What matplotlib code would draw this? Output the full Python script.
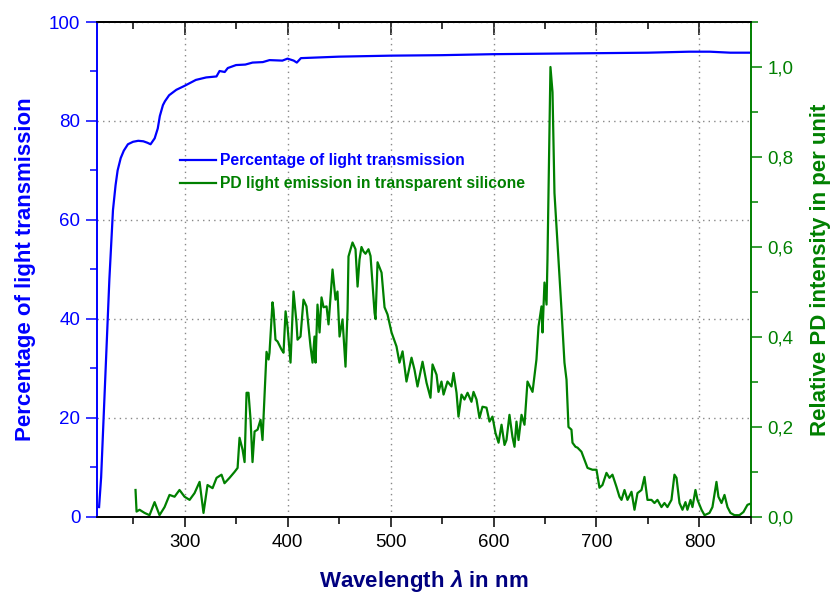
import matplotlib
matplotlib.use('Agg')
import matplotlib.pyplot as plt
from matplotlib.ticker import MultipleLocator, FuncFormatter

plt.rcParams['font.family'] = ['Liberation Sans', 'DejaVu Sans']
plt.rcParams['mathtext.fontset'] = 'custom'
plt.rcParams['mathtext.it'] = 'Liberation Sans:italic:bold'
plt.rcParams['mathtext.rm'] = 'Liberation Sans:bold'

BLUE = '#0000ff'
GREEN = '#008000'
NAVY = '#000080'

# transmission curve (left axis, %)
trans_wl = [217, 219, 221, 223, 225, 227, 229, 230.5, 233, 235, 238, 241, 245, 250,
            255, 260, 264, 267, 271, 274, 276, 279, 281, 285, 292, 300, 311, 321,
            331, 334, 339, 342, 350, 359, 366, 376, 382.5, 395, 400, 406, 409, 413,
            450, 500, 550, 600, 650, 700, 750, 790, 810, 830, 850]
trans_pct = [2, 8, 18, 28, 38, 48, 56, 62, 67, 70, 72.5, 74, 75.3, 75.8,
             76, 75.9, 75.6, 75.3, 76.5, 78.5, 81, 83.2, 84, 85.2, 86.3, 87.1, 88.3, 88.8,
             89, 90.1, 89.9, 90.7, 91.3, 91.4, 91.8, 91.9, 92.3, 92.2, 92.6, 92.2, 91.8, 92.7,
             93.0, 93.2, 93.3, 93.5, 93.6, 93.7, 93.8, 94.0, 94.0, 93.8, 93.8]

# PD emission spectrum (right axis, per unit)
pd_wl = [252.4, 253.4, 256.3, 261.2, 266.0, 270.9, 275.7, 280.6, 285.4, 290.3,
         295.1, 300.0, 304.9, 309.7, 314.6, 318.4, 322.3, 327.2, 331.1, 335.9,
         338.8, 343.7, 348.5, 351.5, 353.4, 356.3, 358.3, 360.2, 362.1, 364.1,
         366.0, 368.0, 370.9, 373.8, 375.7, 379.6, 381.6, 382.5, 385.4, 386.4,
         388.3, 390.3, 394.2, 396.1, 398.1, 400.0, 402.9, 405.8, 408.7, 409.7,
         412.6, 415.5, 418.4, 422.3, 424.3, 426.2, 427.2, 429.1, 431.1, 433.0,
         435.0, 437.9, 439.8, 442.7, 443.7, 446.6, 448.5, 450.5, 453.4, 456.3,
         458.3, 459.2, 463.1, 466.0, 468.0, 469.9, 471.8, 473.8, 475.7, 478.6,
         480.6, 484.5, 485.4, 487.4, 491.3, 494.2, 497.1, 501.0, 505.8, 508.7,
         511.7, 515.5, 520.4, 523.3, 526.2, 531.1, 535.0, 538.8, 540.8, 544.7,
         546.6, 549.5, 551.5, 555.3, 559.2, 561.2, 564.1, 566.0, 568.9, 571.8,
         574.8, 578.6, 580.6, 583.5, 586.4, 589.3, 593.2, 596.1, 599.0, 601.9,
         604.9, 607.8, 610.7, 612.6, 615.5, 618.4, 620.4, 622.3, 624.3, 627.2,
         630.1, 633.0, 637.9, 641.7, 643.7, 646.6, 647.6, 649.5, 651.5, 652.4,
         655.3, 657.3, 659.2, 662.1, 666.0, 668.9, 670.9, 672.8, 675.7, 676.7,
         679.6, 681.6, 685.4, 688.3, 691.3, 696.1, 700.0, 702.9, 705.8, 709.7,
         712.6, 715.5, 719.4, 722.3, 724.3, 727.2, 730.1, 734.0, 736.9, 739.8,
         743.7, 746.6, 749.5, 753.4, 756.3, 759.2, 763.1, 766.0, 768.9, 772.8,
         775.7, 777.7, 780.6, 783.5, 786.4, 788.3, 791.3, 793.2, 796.1, 798.1,
         802.0, 804.9, 809.7, 812.6, 816.5, 818.4, 821.4, 824.3, 827.2, 830.1,
         834.0, 838.8, 842.7, 846.6, 850.0]
pd_int = [0.06, 0.012, 0.016, 0.009, 0.004, 0.033, 0.004, 0.022, 0.049, 0.045,
          0.06, 0.045, 0.038, 0.053, 0.078, 0.009, 0.071, 0.064, 0.087, 0.094,
          0.075, 0.087, 0.10, 0.109, 0.176, 0.15, 0.122, 0.276, 0.276, 0.216,
          0.122, 0.19, 0.194, 0.216, 0.171, 0.367, 0.35, 0.365, 0.477, 0.46,
          0.394, 0.39, 0.372, 0.365, 0.457, 0.423, 0.343, 0.501, 0.432, 0.394,
          0.401, 0.483, 0.468, 0.379, 0.343, 0.401, 0.343, 0.472, 0.41, 0.488,
          0.466, 0.468, 0.428, 0.521, 0.55, 0.483, 0.501, 0.401, 0.439, 0.334,
          0.461, 0.579, 0.61, 0.595, 0.512, 0.572, 0.60, 0.59, 0.585, 0.595,
          0.58, 0.454, 0.44, 0.566, 0.543, 0.466, 0.45, 0.41, 0.379, 0.343,
          0.368, 0.301, 0.354, 0.327, 0.29, 0.345, 0.298, 0.265, 0.339, 0.316,
          0.278, 0.301, 0.272, 0.301, 0.29, 0.32, 0.276, 0.223, 0.272, 0.261,
          0.276, 0.256, 0.278, 0.261, 0.22, 0.245, 0.243, 0.212, 0.223, 0.187,
          0.165, 0.205, 0.16, 0.171, 0.227, 0.178, 0.156, 0.212, 0.171, 0.227,
          0.205, 0.301, 0.278, 0.35, 0.423, 0.468, 0.41, 0.521, 0.472, 0.572,
          1.0, 0.944, 0.72, 0.61, 0.461, 0.343, 0.305, 0.2, 0.194, 0.165,
          0.156, 0.154, 0.145, 0.127, 0.109, 0.105, 0.105, 0.065, 0.071, 0.098,
          0.087, 0.094, 0.067, 0.045, 0.038, 0.06, 0.038, 0.056, 0.016, 0.053,
          0.06, 0.089, 0.038, 0.038, 0.031, 0.038, 0.022, 0.031, 0.022, 0.038,
          0.094, 0.087, 0.031, 0.016, 0.033, 0.016, 0.038, 0.022, 0.06, 0.038,
          0.016, 0.004, 0.009, 0.022, 0.078, 0.045, 0.031, 0.049, 0.022, 0.009,
          0.004, 0.004, 0.011, 0.027, 0.03]

fig = plt.figure(figsize=(8.32, 5.93), dpi=100)
ax = fig.add_axes([0.1166, 0.1282, 0.786, 0.8347])
ax2 = ax.twinx()

l1, = ax.plot(trans_wl, trans_pct, color=BLUE, lw=1.6, label='Percentage of light transmission')
l2, = ax2.plot(pd_wl, pd_int, color=GREEN, lw=1.6, label='PD light emission in transparent silicone')

ax.set_xlim(215, 850)
ax.set_ylim(0, 100)
ax2.set_ylim(0, 1.1)

ax.xaxis.set_major_locator(MultipleLocator(100))
ax.xaxis.set_minor_locator(MultipleLocator(50))
ax.yaxis.set_major_locator(MultipleLocator(20))
ax.yaxis.set_minor_locator(MultipleLocator(10))
ax2.yaxis.set_major_locator(MultipleLocator(0.2))
ax2.yaxis.set_minor_locator(MultipleLocator(0.1))
ax2.yaxis.set_major_formatter(FuncFormatter(lambda v, p: '{:.1f}'.format(v).replace('.', ',')))

ax.grid(True, which='major', linestyle=(0, (1, 3)), color='#888888', lw=1.0)

ax.tick_params(axis='x', which='both', direction='out', width=1.1, labelsize=13.5, colors='black', pad=5)
ax.tick_params(axis='x', which='major', length=7)
ax.tick_params(axis='x', which='minor', length=5)
ax.tick_params(axis='y', which='both', direction='out', width=1.1, labelsize=13.5, colors=BLUE, pad=4)
ax.tick_params(axis='y', which='major', length=8)
ax.tick_params(axis='y', which='minor', length=5)
ax2.tick_params(axis='y', which='both', direction='out', width=1.1, labelsize=13.5, colors=GREEN, pad=4)
ax2.tick_params(axis='y', which='major', length=8)
ax2.tick_params(axis='y', which='minor', length=5)

# top ticks pointing inward
top = ax.secondary_xaxis('top')
top.xaxis.set_major_locator(MultipleLocator(100))
top.xaxis.set_minor_locator(MultipleLocator(50))
top.tick_params(which='both', direction='in', labeltop=False, width=1.1)
top.tick_params(which='major', length=9)
top.tick_params(which='minor', length=5)

for a in (ax, ax2):
    a.spines['left'].set_color(BLUE)
    a.spines['right'].set_color(GREEN)
    for s in a.spines.values():
        s.set_linewidth(1.2)
top.spines['top'].set_linewidth(1.2)

ax.set_xlabel(r'Wavelength $\lambda$ in nm', fontsize=16, fontweight='bold', color=NAVY)
ax.xaxis.set_label_coords(0.5, -0.103)
ax.set_ylabel('Percentage of light transmission', fontsize=16, fontweight='bold', color=BLUE)
ax.yaxis.set_label_coords(-0.093, 0.5)
ax2.set_ylabel('Relative PD intensity in per unit', fontsize=16, fontweight='bold', color=GREEN)
ax2.yaxis.set_label_coords(1.09, 0.5)

leg = ax2.legend(handles=[l1, l2], loc='upper left', bbox_to_anchor=(0.127, 0.735),
                 frameon=False, borderpad=0, borderaxespad=0, handlelength=2.3,
                 handletextpad=0.25, labelspacing=0.5,
                 prop={'weight': 'bold', 'size': 11.3})
for txt, c in zip(leg.get_texts(), (BLUE, GREEN)):
    txt.set_color(c)

fig.savefig('out.png', dpi=100)
